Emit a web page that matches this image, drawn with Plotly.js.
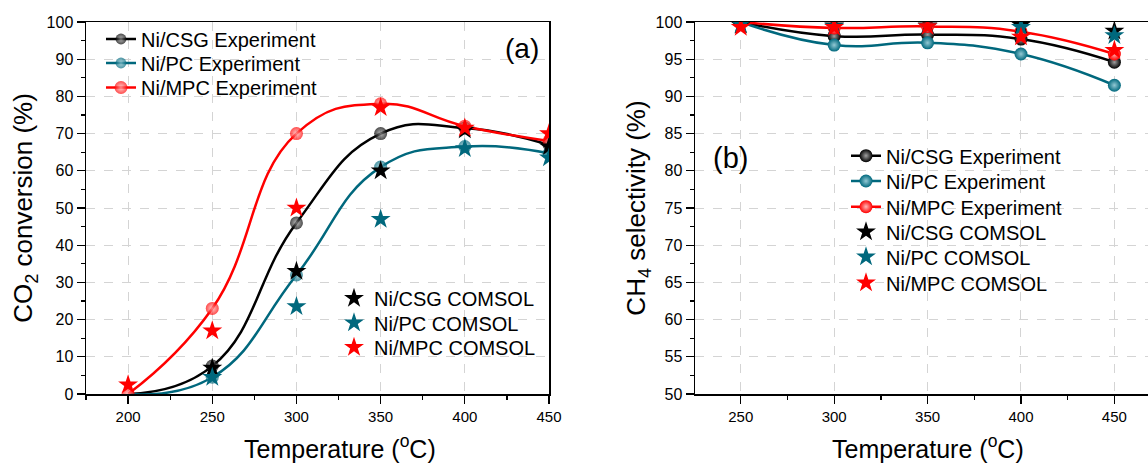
<!DOCTYPE html>
<html><head><meta charset="utf-8">
<script src="https://cdn.plot.ly/plotly-3.0.1.min.js"></script>
<style>body{margin:0;background:#fff}#chart{width:1148px;height:464px}</style>
</head><body><div id="chart"></div>
<script>
// ---------- data: panel (a) CO2 conversion ----------
const tempA = [200, 250, 300, 350, 400, 450];
const csgExpA = [0, 7.5, 46, 70, 71.5, 67];
const pcExpA = [0, 4.5, 32, 61, 66.5, 64.7];
const mpcExpA = [0, 23, 70, 78, 72, 68];
const tempComA = [250, 300, 350, 400, 450];
const csgComA = [7, 33, 60, 71, 66.5];
const pcComA = [4.5, 23.5, 47, 66, 63.5];
const tempMpcComA = [200, 250, 300, 350, 400, 450];
const mpcComA = [2.5, 17, 50, 77, 71.5, 70];

// ---------- data: panel (b) CH4 selectivity ----------
const tempB = [250, 300, 350, 400, 450];
const csgExpB = [100, 98.1, 98.3, 97.7, 94.6];
const pcExpB = [100, 96.9, 97.2, 95.7, 91.5];
const mpcExpB = [100, 99.2, 99.4, 98.7, 95.7];
const csgComB = [99.6, 99.5, 99.5, 99.6, 98.8];
const pcComB = [99.7, 99.4, 99.4, 99.3, 98.2];
const mpcComB = [99.3, 99.3, 99.4, 98.0, 96.2];

const seriesNames = ['Ni/CSG Experiment', 'Ni/PC Experiment', 'Ni/MPC Experiment',
                     'Ni/CSG COMSOL', 'Ni/PC COMSOL', 'Ni/MPC COMSOL'];

// ---------- styles ----------
const COL = ['#000000', '#00687d', '#ff0000'];
const GRAD = ['#a0a0a0', '#93c9d4', '#ffb8b8'];
const FONT = 'Liberation Sans, Arial, Helvetica, sans-serif';
const W = 1148, T = 22, B = 394, PH = B - T;
const py = p => (B - p) / PH;

function expTrace(x, y, i, xa, ya, leg, sizes) {
  return {
    x: x, y: y, type: 'scatter', mode: 'lines+markers', name: seriesNames[i],
    xaxis: xa, yaxis: ya, legend: leg,
    line: {color: COL[i], width: 2.5, shape: 'spline', smoothing: 1.3},
    marker: {color: COL[i], size: sizes, symbol: 'circle',
             gradient: {type: 'radial', color: GRAD[i]}, line: {width: 0}}
  };
}
function comTrace(x, y, i, xa, ya, leg) {
  return {
    x: x, y: y, type: 'scatter', mode: 'markers', name: seriesNames[i + 3],
    xaxis: xa, yaxis: ya, legend: leg,
    marker: {color: COL[i], size: 15, symbol: 'star', line: {width: 0}}
  };
}
const hide200 = tempA.map(t => t === 200 ? 0 : 13);
const show = tempA.map(() => 13);

const data = [
  expTrace(tempA, csgExpA, 0, 'x', 'y', 'legend', hide200),
  expTrace(tempA, pcExpA, 1, 'x', 'y', 'legend2', hide200),
  expTrace(tempA, mpcExpA, 2, 'x', 'y', 'legend3', show),
  comTrace(tempComA, csgComA, 0, 'x', 'y', 'legend4'),
  comTrace(tempComA, pcComA, 1, 'x', 'y', 'legend5'),
  comTrace(tempMpcComA, mpcComA, 2, 'x', 'y', 'legend6'),
  expTrace(tempB, csgExpB, 0, 'x2', 'y2', 'legend7', 13),
  expTrace(tempB, pcExpB, 1, 'x2', 'y2', 'legend8', 13),
  expTrace(tempB, mpcExpB, 2, 'x2', 'y2', 'legend9', 13),
  comTrace(tempB, csgComB, 0, 'x2', 'y2', 'legend10'),
  comTrace(tempB, pcComB, 1, 'x2', 'y2', 'legend11'),
  comTrace(tempB, mpcComB, 2, 'x2', 'y2', 'legend12')
];

// legend row placement (pixel centres)
const legendRows = [
  [101, 39], [101, 63], [101, 87.5],
  [334, 298.3], [334, 322.7], [334, 347.3],
  [846, 155.7], [846, 181], [846, 206.7], [846, 231.7], [846, 256.7], [846, 282.7]
];

const gridStyle = {showgrid: true, gridcolor: '#d4d4d4', griddash: 'dash', gridwidth: 1};
const axisBase = Object.assign({
  showline: true, linecolor: '#000', linewidth: 1.5,
  ticks: 'outside', ticklen: 8, tickwidth: 1.3, tickcolor: '#000',
  zeroline: false, tickfont: {family: FONT, size: 15, color: '#000'}
}, gridStyle);

const layout = {
  width: W, height: 464,
  margin: {l: 0, r: 0, t: T, b: 464 - B},
  paper_bgcolor: '#fff', plot_bgcolor: '#fff',
  font: {family: FONT, color: '#000'},
  showlegend: true,
  xaxis: Object.assign({}, axisBase, {
    domain: [86 / W, 549 / W], range: [175, 450], tick0: 200, dtick: 50, mirror: true,
    minor: {dtick: 25, tick0: 175, ticklen: 4, tickcolor: '#000', ticks: 'outside', showgrid: false}
  }),
  yaxis: Object.assign({}, axisBase, {
    domain: [0, 1], range: [0, 100], dtick: 10, mirror: true,
    tickfont: {family: FONT, size: 16, color: '#000'},
    minor: {dtick: 5, ticklen: 4, tickcolor: '#000', ticks: 'outside', showgrid: false},
    title: {text: 'CO<sub>2</sub> conversion (%)', font: {family: FONT, size: 26}, standoff: 6}
  }),
  xaxis2: Object.assign({}, axisBase, {
    anchor: 'y2', domain: [695 / W, 1], range: [225.5, 468], tick0: 250, dtick: 50, mirror: true,
    minor: {dtick: 25, tick0: 225, ticklen: 4, tickcolor: '#000', ticks: 'outside', showgrid: false}
  }),
  yaxis2: Object.assign({}, axisBase, {
    anchor: 'x2', domain: [0, 1], range: [50, 100], dtick: 5,
    tickfont: {family: FONT, size: 16, color: '#000'},
    minor: {dtick: 2.5, ticklen: 4, tickcolor: '#000', ticks: 'outside', showgrid: false},
    title: {text: 'CH<sub>4</sub> selectivity (%)', font: {family: FONT, size: 26}, standoff: 2}
  }),
  annotations: [
    {text: '(a)', xref: 'paper', yref: 'paper', x: 522 / W, y: py(48), showarrow: false,
     xanchor: 'center', yanchor: 'middle', font: {family: FONT, size: 28}},
    {text: '(b)', xref: 'paper', yref: 'paper', x: 730 / W, y: py(158), showarrow: false,
     xanchor: 'center', yanchor: 'middle', font: {family: FONT, size: 29}},
    {text: 'Temperature (<sup>o</sup>C)', xref: 'paper', yref: 'paper', x: 340 / W, y: py(447),
     showarrow: false, xanchor: 'center', yanchor: 'middle', font: {family: FONT, size: 25}},
    {text: 'Temperature (<sup>o</sup>C)', xref: 'paper', yref: 'paper', x: 928 / W, y: py(447),
     showarrow: false, xanchor: 'center', yanchor: 'middle', font: {family: FONT, size: 25}}
  ]
};

legendRows.forEach((r, k) => {
  const key = k === 0 ? 'legend' : 'legend' + (k + 1);
  layout[key] = {
    x: r[0] / W, y: py(r[1]), xanchor: 'left', yanchor: 'middle',
    bgcolor: 'rgba(0,0,0,0)', borderwidth: 0,
    font: {family: FONT, size: 20, color: '#000'}
  };
});

Plotly.newPlot('chart', data, layout, {displayModeBar: false, staticPlot: true});
</script>
</body></html>
